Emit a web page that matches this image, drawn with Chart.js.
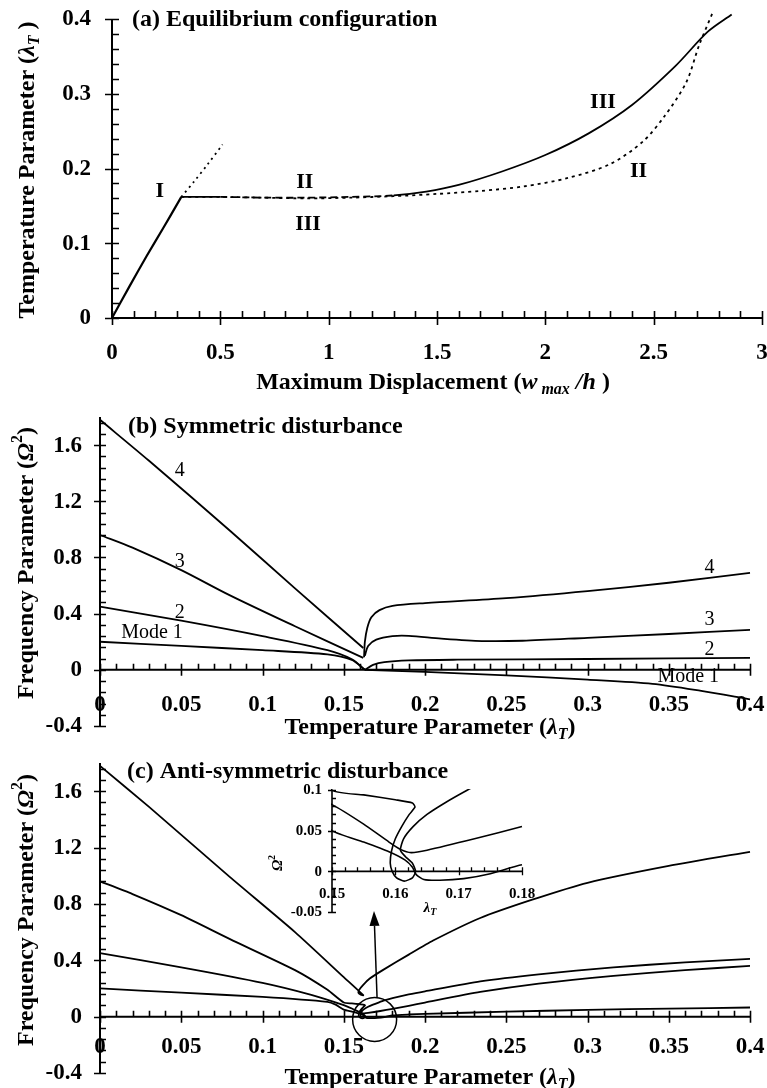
<!DOCTYPE html>
<html>
<head>
<meta charset="utf-8">
<script src="https://cdn.jsdelivr.net/npm/chart.js@4.4.1/dist/chart.umd.min.js"></script>
<style>
  html, body { margin: 0; padding: 0; background: #fff; }
  #fig { position: relative; width: 767px; height: 1088px; overflow: hidden; background: #fff; }
  #fig canvas { position: absolute; left: 0; }
</style>
</head>
<body>
<div id="fig">
  <canvas id="panelA" width="767" height="400" style="top:0"></canvas>
  <canvas id="panelB" width="767" height="370" style="top:380px"></canvas>
  <canvas id="panelC" width="767" height="338" style="top:750px"></canvas>
  <canvas id="inset" width="310" height="150" style="left:240px;top:770px"></canvas>
</div>
<script>
const SERIF = "'Liberation Serif', 'Times New Roman', serif";

// (a) equilibrium paths: max displacement w/h vs temperature parameter
const wBranchI = [0, 0.08, 0.16, 0.24, 0.3, 0.32];
const lamBranchI = [0, 0.042, 0.083, 0.122, 0.152, 0.162];
const wBranchIext = [0.32, 0.38, 0.44, 0.51];
const lamBranchIext = [0.162, 0.183, 0.205, 0.232];
const wBranchII = [0.32, 0.5, 0.7, 0.9, 1.1, 1.3, 1.5, 1.7, 1.9, 2.1, 2.3, 2.45, 2.55, 2.65, 2.71, 2.77];
const lamBranchII = [0.162, 0.162, 0.161, 0.16, 0.161, 0.163, 0.166, 0.17, 0.176, 0.187, 0.206, 0.236, 0.27, 0.315, 0.365, 0.407];
const wBranchIII = [0.32, 0.5, 0.7, 0.9, 1.1, 1.3, 1.45, 1.6, 1.8, 2.0, 2.2, 2.4, 2.6, 2.75, 2.86];
const lamBranchIII = [0.162, 0.162, 0.161, 0.161, 0.162, 0.164, 0.169, 0.178, 0.196, 0.218, 0.247, 0.285, 0.337, 0.383, 0.406];

const aTicksX = [0, 0.5, 1, 1.5, 2, 2.5, 3];
const aTickLabelsX = ['0', '0.5', '1', '1.5', '2', '2.5', '3'];
const aTicksY = [0, 0.1, 0.2, 0.3, 0.4];
const aTickLabelsY = ['0', '0.1', '0.2', '0.3', '0.4'];

// (b) symmetric disturbance: frequency parameter vs temperature parameter
const lamB4L = [0, 0.03, 0.08, 0.12, 0.162];
const omgB4L = [1.78, 1.49, 0.99, 0.58, 0.155];
const lamB4R = [0.1625, 0.163, 0.1645, 0.167, 0.172, 0.18, 0.2, 0.25, 0.3, 0.35, 0.4];
const omgB4R = [0.09, 0.2, 0.3, 0.375, 0.425, 0.455, 0.475, 0.51, 0.56, 0.62, 0.69];
const lamB3L = [0, 0.02, 0.05, 0.08, 0.12, 0.162];
const omgB3L = [0.96, 0.87, 0.71, 0.53, 0.31, 0.085];
const lamB3R = [0.163, 0.165, 0.17, 0.18, 0.19, 0.21, 0.235, 0.26, 0.3, 0.35, 0.4];
const omgB3R = [0.1, 0.17, 0.215, 0.24, 0.242, 0.222, 0.205, 0.207, 0.228, 0.255, 0.285];
const lamB2L = [0, 0.05, 0.1, 0.14, 0.155, 0.163];
const omgB2L = [0.45, 0.35, 0.24, 0.14, 0.075, 0];
const lamB2R = [0.163, 0.168, 0.175, 0.19, 0.22, 0.3, 0.4];
const omgB2R = [0, 0.035, 0.055, 0.067, 0.072, 0.077, 0.085];
const lamB1L = [0, 0.05, 0.1, 0.14, 0.155, 0.163];
const omgB1L = [0.2, 0.17, 0.14, 0.11, 0.07, 0];
const lamB1R = [0.163, 0.2, 0.25, 0.3, 0.34, 0.37, 0.4];
const omgB1R = [0, -0.015, -0.04, -0.07, -0.1, -0.15, -0.21];

// (c) anti-symmetric disturbance (also shown magnified in the inset)
const lamC4 = [0, 0.03, 0.08, 0.12, 0.15, 0.162, 0.1605, 0.159, 0.1595, 0.162, 0.166, 0.174, 0.19, 0.205, 0.234, 0.266, 0.3, 0.35, 0.4];
const omgC4 = [1.78, 1.49, 0.99, 0.6, 0.28, 0.152, 0.155, 0.17, 0.19, 0.225, 0.27, 0.33, 0.44, 0.54, 0.7, 0.83, 0.95, 1.07, 1.17];
const lamC3 = [0, 0.02, 0.05, 0.08, 0.12, 0.14, 0.15, 0.155, 0.16, 0.1627, 0.1631, 0.1622, 0.161, 0.16, 0.1594, 0.1592, 0.1595, 0.1602, 0.1614, 0.1627, 0.1632, 0.1627, 0.1616, 0.1608, 0.1613, 0.1628, 0.165, 0.168, 0.1714, 0.175, 0.18, 0.19, 0.2, 0.234, 0.27, 0.316, 0.36, 0.4];
const omgC3 = [0.96, 0.87, 0.72, 0.55, 0.33, 0.19, 0.1, 0.094, 0.088, 0.084, 0.079, 0.07, 0.055, 0.04, 0.025, 0.01, 0, -0.008, -0.012, -0.008, 0, 0.01, 0.018, 0.026, 0.04, 0.055, 0.07, 0.085, 0.1, 0.115, 0.132, 0.158, 0.18, 0.25, 0.3, 0.35, 0.385, 0.41];
const lamC2 = [0, 0.05, 0.1, 0.13, 0.15, 0.155, 0.159, 0.1608, 0.1625, 0.165, 0.1725, 0.18, 0.19, 0.2, 0.234, 0.27, 0.316, 0.36, 0.4];
const omgC2 = [0.45, 0.35, 0.24, 0.155, 0.082, 0.058, 0.036, 0.027, 0.023, 0.026, 0.04, 0.055, 0.077, 0.1, 0.175, 0.235, 0.29, 0.33, 0.36];
const lamC1 = [0, 0.05, 0.1, 0.14, 0.145, 0.15, 0.155, 0.159, 0.1615, 0.1627, 0.1633, 0.1645, 0.167, 0.1708, 0.175, 0.18, 0.19, 0.2, 0.25, 0.3, 0.35, 0.4];
const omgC1 = [0.2, 0.17, 0.14, 0.105, 0.085, 0.05, 0.036, 0.024, 0.014, 0.005, -0.004, -0.01, -0.011, -0.009, -0.003, 0.008, 0.015, 0.02, 0.035, 0.048, 0.057, 0.065];

const lamTicks = [0, 0.05, 0.1, 0.15, 0.2, 0.25, 0.3, 0.35, 0.4];
const lamTickLabels = ['0', '0.05', '0.1', '0.15', '0.2', '0.25', '0.3', '0.35', '0.4'];
const omgTicks = [-0.4, 0, 0.4, 0.8, 1.2, 1.6];
const omgTickLabels = ['-0.4', '0', '0.4', '0.8', '1.2', '1.6'];

const insetTicksX = [0.15, 0.16, 0.17, 0.18];
const insetTickLabelsX = ['0.15', '0.16', '0.17', '0.18'];
const insetTicksY = [-0.05, 0, 0.05, 0.1];
const insetTickLabelsY = ['-0.05', '0', '0.05', '0.1'];

// ---------- helpers ----------
function series(xs, ys, extra) {
  return Object.assign({
    data: xs.map((x, i) => ({ x, y: ys[i] })),
    showLine: true, pointRadius: 0, borderColor: '#000', borderWidth: 1.8,
    tension: 0.3, fill: false, clip: 6
  }, extra || {});
}

function stepsBetween(min, max, step) {
  const out = [];
  for (let i = 0; ; i++) {
    const v = Math.round((min + i * step) * 1e6) / 1e6;
    if (v > max + 1e-9) break;
    out.push(v);
  }
  return out;
}

// mixed-style text (italic symbols, sub/superscripts); vertical titles are
// drawn in a frame turned about the bottom-left corner
function drawRich(ctx, item) {
  const size = item.size;
  const fontOf = p => `${p.italic ? 'italic ' : ''}bold ${p.small ? Math.round(size * 0.66) : size}px ${SERIF}`;
  let total = 0;
  item.parts.forEach(p => { ctx.font = fontOf(p); total += ctx.measureText(p.text).width; });
  ctx.save();
  let ox = item.x, oy = item.y;
  if (item.rotate) {
    const h = ctx.canvas.height;
    ctx.translate(0, h);
    ctx.rotate(-Math.PI / 2);
    ox = h - item.y;
    oy = item.x;
  }
  let cx = item.align === 'left' ? ox : ox - total / 2;
  ctx.textAlign = 'left';
  ctx.textBaseline = 'middle';
  ctx.fillStyle = '#000';
  item.parts.forEach(p => {
    ctx.font = fontOf(p);
    ctx.fillText(p.text, cx, oy + (p.shift ? p.shift * size : 0));
    cx += ctx.measureText(p.text).width;
  });
  ctx.restore();
}

// per-canvas decorations, kept outside the chart options
const figureSpecs = {};

// axis lines with crossing major ticks and inward minor ticks, value labels, notes, titles
const figurePlugin = {
  id: 'figure',
  afterDraw(chart) {
    const o = figureSpecs[chart.canvas.id];
    if (!o) return;
    const ctx = chart.ctx;
    const xs = chart.scales.x, ys = chart.scales.y;
    const ax = xs.getPixelForValue(xs.min);
    const ay = ys.getPixelForValue(0);
    const isMajor = (list, v) => list.some(m => Math.abs(m - v) < 1e-7);
    ctx.save();
    ctx.strokeStyle = '#000';
    ctx.fillStyle = '#000';
    ctx.lineWidth = o.axisWidth;
    ctx.beginPath();
    ctx.moveTo(xs.left, ay); ctx.lineTo(xs.right + o.axisWidth / 2, ay);
    ctx.moveTo(ax, ys.top); ctx.lineTo(ax, ys.bottom);
    ctx.stroke();

    const L = o.tickLen;
    ctx.lineWidth = o.tickWidth;
    ctx.beginPath();
    stepsBetween(xs.min, xs.max, o.xMinorStep).forEach(v => {
      const p = Math.round(xs.getPixelForValue(v)) + 0.5;
      ctx.moveTo(p, ay - L); ctx.lineTo(p, isMajor(o.xMajor, v) ? ay + L : ay);
    });
    stepsBetween(ys.min, ys.max, o.yMinorStep).forEach(v => {
      const p = Math.round(ys.getPixelForValue(v)) + 0.5;
      ctx.moveTo(ax + L, p); ctx.lineTo(isMajor(o.yMajor, v) ? ax - L : ax, p);
    });
    ctx.stroke();

    // y value labels, right-aligned left of the axis
    ctx.font = `bold ${o.yLabelSize}px ${SERIF}`;
    ctx.textAlign = 'right';
    ctx.textBaseline = 'middle';
    o.yMajor.forEach((v, i) => {
      ctx.fillText(o.yLabels[i], ax - o.yLabelPad, ys.getPixelForValue(v) + 0.5);
    });

    (o.notes || []).forEach(n => {
      ctx.font = n.font;
      ctx.textAlign = 'center';
      ctx.textBaseline = 'middle';
      ctx.fillText(n.text, xs.getPixelForValue(n.x), ys.getPixelForValue(n.y));
    });

    if (o.marker) {
      const m = o.marker;
      ctx.lineWidth = 1.5;
      ctx.beginPath();
      ctx.arc(xs.getPixelForValue(m.cx), ys.getPixelForValue(m.cy), m.r, 0, Math.PI * 2);
      ctx.stroke();
      const x1 = xs.getPixelForValue(m.from[0]), y1 = ys.getPixelForValue(m.from[1]);
      const x2 = xs.getPixelForValue(m.to[0]), y2 = ys.getPixelForValue(m.to[1]);
      const ang = Math.atan2(y2 - y1, x2 - x1);
      const hl = 15, hw = 5;
      const bx = x2 - hl * Math.cos(ang), by = y2 - hl * Math.sin(ang);
      ctx.beginPath();
      ctx.moveTo(x1, y1);
      ctx.lineTo(bx, by);
      ctx.stroke();
      ctx.beginPath();
      ctx.moveTo(x2, y2);
      ctx.lineTo(bx + hw * Math.sin(ang), by - hw * Math.cos(ang));
      ctx.lineTo(bx - hw * Math.sin(ang), by + hw * Math.cos(ang));
      ctx.closePath();
      ctx.fill();
    }
    ctx.restore();
    (o.rich || []).forEach(item => drawRich(ctx, item));
  }
};

function axisX(c) {
  return {
    type: 'linear', min: c.min, max: c.max, position: { y: 0 },
    grid: { display: false, drawTicks: false }, border: { display: false },
    ticks: {
      color: '#000', padding: c.pad, autoSkip: false, maxRotation: 0, minRotation: 0,
      font: { family: SERIF, size: c.size, weight: 'bold' },
      callback: (v, i) => c.labels[i]
    },
    afterBuildTicks: s => { s.ticks = c.values.map(value => ({ value })); },
    afterFit: s => { s.height = 0; s.paddingLeft = 0; s.paddingRight = 0; }
  };
}

function axisY(c) {
  return {
    type: 'linear', min: c.min, max: c.max, position: 'left',
    grid: { display: false, drawTicks: false }, border: { display: false },
    ticks: { display: false },
    afterBuildTicks: s => { s.ticks = c.values.map(value => ({ value })); },
    afterFit: s => { s.width = 0; s.paddingTop = 0; s.paddingBottom = 0; }
  };
}

function panel(id, o) {
  figureSpecs[id] = Object.assign({
    yMajor: o.y.values, yLabels: o.y.labels, yLabelPad: o.y.pad, yLabelSize: o.y.size
  }, o.figure);
  return new Chart(document.getElementById(id), {
    type: 'scatter',
    data: { datasets: o.datasets },
    options: {
      responsive: false, animation: false, devicePixelRatio: 1,
      layout: { padding: o.area },
      events: [],
      plugins: { legend: { display: false }, tooltip: { enabled: false } },
      scales: { x: axisX(o.x), y: axisY(o.y) }
    },
    plugins: [figurePlugin]
  });
}

const lamT = [{ text: 'λ', italic: true }, { text: 'T', italic: true, small: true, shift: 0.3 }];
const omg2 = [{ text: 'Ω', italic: true }, { text: '2', small: true, shift: -0.38 }];
const noteBold = `bold 22px ${SERIF}`;
const noteReg = `20px ${SERIF}`;

// ---------- (a) ----------
const flatPart = ctx => (ctx.p0.parsed.x >= 0.5 && ctx.p1.parsed.x <= 1.31) ? [7, 4] : undefined;
panel('panelA', {
  area: { left: 112, right: 5, top: 19, bottom: 82 },
  x: { min: 0, max: 3, values: aTicksX, labels: aTickLabelsX, pad: 21, size: 23 },
  y: { min: 0, max: 0.4, values: aTicksY, labels: aTickLabelsY, pad: 21, size: 23 },
  datasets: [
    series(wBranchI, lamBranchI, { tension: 0.2, borderWidth: 2.2 }),
    series(wBranchIext, lamBranchIext, { borderDash: [2, 4] }),
    series(wBranchII, lamBranchII, { borderDash: [3, 4] }),
    series(wBranchIII, lamBranchIII, { segment: { borderDash: flatPart } })
  ],
  figure: {
    axisWidth: 2, tickWidth: 1.6, tickLen: 7,
    xMajor: aTicksX, xMinorStep: 0.1, yMinorStep: 0.02,
    notes: [
      { x: 0.22, y: 0.169, text: 'I', font: noteBold },
      { x: 0.89, y: 0.182, text: 'II', font: noteBold },
      { x: 0.905, y: 0.126, text: 'III', font: noteBold },
      { x: 2.266, y: 0.288, text: 'III', font: noteBold },
      { x: 2.43, y: 0.196, text: 'II', font: noteBold }
    ],
    rich: [
      { x: 132, y: 20, size: 24, align: 'left', parts: [{ text: '(a) Equilibrium configuration' }] },
      { x: 433, y: 383, size: 24, parts: [{ text: 'Maximum Displacement (' }, { text: 'w', italic: true },
        { text: ' max', italic: true, small: true, shift: 0.3 }, { text: ' /h', italic: true }, { text: ' )' }] },
      { x: 28, y: 170, size: 24, rotate: true, parts: [{ text: 'Temperature Parameter (' }, ...lamT, { text: ' )' }] }
    ]
  }
});

// ---------- (b) ----------
panel('panelB', {
  area: { left: 100, right: 17, top: 37, bottom: 24 },
  x: { min: 0, max: 0.4, values: lamTicks, labels: lamTickLabels, pad: 21, size: 23 },
  y: { min: -0.4, max: 1.8, values: omgTicks, labels: omgTickLabels, pad: 18, size: 23 },
  datasets: [
    series(lamB4L, omgB4L), series(lamB4R, omgB4R),
    series(lamB3L, omgB3L), series(lamB3R, omgB3R),
    series(lamB2L, omgB2L), series(lamB2R, omgB2R),
    series(lamB1L, omgB1L), series(lamB1R, omgB1R)
  ],
  figure: {
    axisWidth: 2, tickWidth: 1.6, tickLen: 6,
    xMajor: lamTicks, xMinorStep: 0.01, yMinorStep: 0.08,
    notes: [
      { x: 0.049, y: 1.42, text: '4', font: noteReg },
      { x: 0.049, y: 0.77, text: '3', font: noteReg },
      { x: 0.049, y: 0.405, text: '2', font: noteReg },
      { x: 0.032, y: 0.263, text: 'Mode 1', font: noteReg },
      { x: 0.375, y: 0.73, text: '4', font: noteReg },
      { x: 0.375, y: 0.355, text: '3', font: noteReg },
      { x: 0.375, y: 0.14, text: '2', font: noteReg },
      { x: 0.362, y: -0.05, text: 'Mode 1', font: noteReg }
    ],
    rich: [
      { x: 128, y: 47, size: 24, align: 'left', parts: [{ text: '(b) Symmetric disturbance' }] },
      { x: 430, y: 348, size: 24, parts: [{ text: 'Temperature Parameter (' }, ...lamT, { text: ')' }] },
      { x: 27, y: 183, size: 24, rotate: true, parts: [{ text: 'Frequency Parameter (' }, ...omg2, { text: ')' }] }
    ]
  }
});

// ---------- (c) ----------
const cSeries = w => [
  series(lamC4, omgC4, { tension: 0.2, borderWidth: w }),
  series(lamC3, omgC3, { tension: 0.2, borderWidth: w }),
  series(lamC2, omgC2, { tension: 0.2, borderWidth: w }),
  series(lamC1, omgC1, { tension: 0.2, borderWidth: w })
];
panel('panelC', {
  area: { left: 100, right: 17, top: 13, bottom: 15 },
  x: { min: 0, max: 0.4, values: lamTicks, labels: lamTickLabels, pad: 17, size: 23 },
  y: { min: -0.4, max: 1.8, values: omgTicks, labels: omgTickLabels, pad: 18, size: 23 },
  datasets: cSeries(1.8),
  figure: {
    axisWidth: 2, tickWidth: 1.6, tickLen: 6,
    xMajor: lamTicks, xMinorStep: 0.01, yMinorStep: 0.08,
    marker: { cx: 0.169, cy: -0.02, r: 22, from: [0.1705, 0.134], to: [0.1686, 0.75] },
    rich: [
      { x: 127, y: 22, size: 24, align: 'left', parts: [{ text: '(c) Anti-symmetric disturbance' }] },
      { x: 430, y: 328, size: 24, parts: [{ text: 'Temperature Parameter (' }, ...lamT, { text: ')' }] },
      { x: 27, y: 160, size: 24, rotate: true, parts: [{ text: 'Frequency Parameter (' }, ...omg2, { text: ')' }] }
    ]
  }
});

// ---------- inset: close-up of (c) around the bifurcation ----------
panel('inset', {
  area: { left: 92, right: 28, top: 20, bottom: 8 },
  x: { min: 0.15, max: 0.18, values: insetTicksX, labels: insetTickLabelsX, pad: 14, size: 15 },
  y: { min: -0.05, max: 0.1, values: insetTicksY, labels: insetTickLabelsY, pad: 10, size: 15 },
  datasets: cSeries(1.6).map(d => Object.assign(d, { clip: 1 })),
  figure: {
    axisWidth: 1.6, tickWidth: 1.3, tickLen: 4,
    xMajor: insetTicksX, xMinorStep: 0.002, yMinorStep: 0.01,
    rich: [
      { x: 190, y: 138, size: 15, parts: lamT },
      { x: 38, y: 93, size: 15, rotate: true, parts: omg2 }
    ]
  }
});
</script>
</body>
</html>
